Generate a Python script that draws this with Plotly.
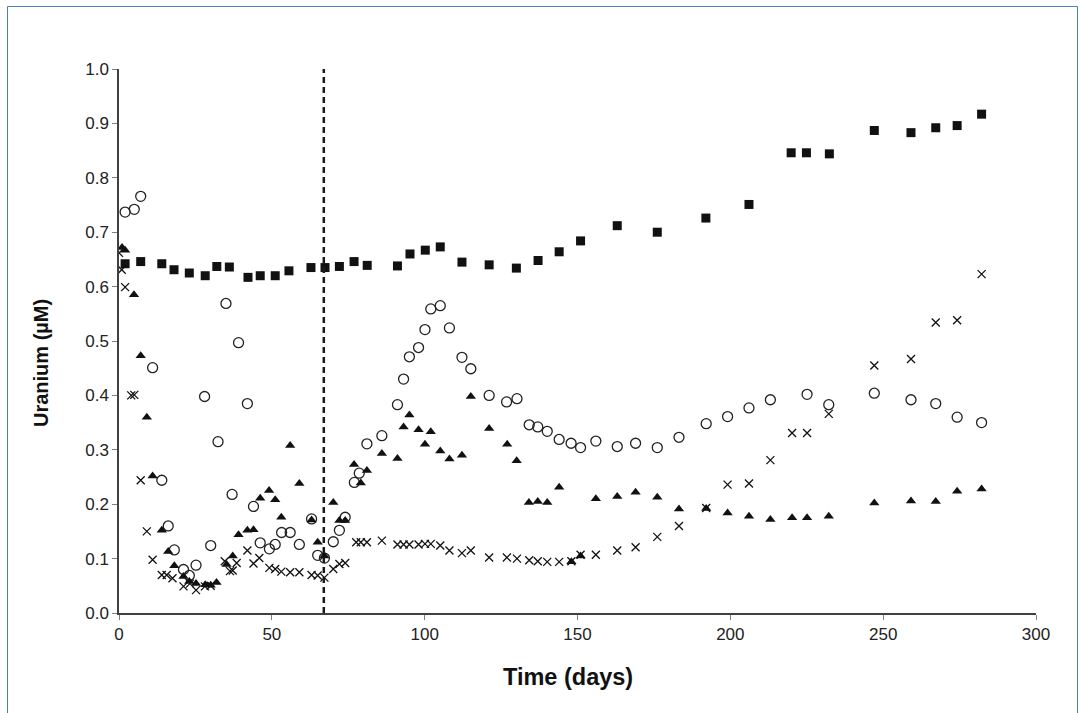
import plotly.graph_objects as go

# Uranium concentration time series (four treatments)
sq_days = [2.0, 7.1, 14.0, 18.0, 23.0, 28.2, 32.0, 36.1, 42.2, 46.2, 51.1, 55.6, 62.8, 67.4,
           72.1, 76.9, 81.2, 91.1, 95.2, 100.2, 105.1, 112.2, 121.1, 130.0, 137.1, 144.0,
           151.0, 163.0, 176.1, 192.0, 206.1, 219.9, 224.9, 232.4, 247.1, 259.1, 267.2,
           274.2, 282.2]
sq_vals = [0.642, 0.646, 0.642, 0.631, 0.625, 0.620, 0.637, 0.636, 0.617, 0.620, 0.620, 0.629,
           0.635, 0.635, 0.637, 0.646, 0.639, 0.638, 0.660, 0.667, 0.673, 0.645, 0.640, 0.634,
           0.648, 0.664, 0.684, 0.712, 0.700, 0.726, 0.751, 0.846, 0.846, 0.844, 0.887, 0.883,
           0.892, 0.896, 0.917]

ci_days = [2.0, 5.0, 7.1, 11.0, 14.0, 16.1, 18.1, 21.1, 23.0, 25.2, 28.0, 30.0, 32.4, 35.0,
           37.0, 39.1, 42.0, 44.0, 46.2, 49.2, 51.1, 53.2, 56.0, 59.0, 63.0, 65.0, 67.2, 70.1,
           72.1, 74.0, 77.0, 78.6, 81.1, 86.0, 91.1, 93.1, 95.0, 98.0, 100.1, 102.0, 105.1,
           108.1, 112.2, 115.1, 121.1, 126.8, 130.2, 134.2, 137.0, 140.1, 144.0, 147.9, 151.0,
           156.0, 163.0, 169.0, 176.1, 183.2, 192.1, 199.1, 206.1, 213.1, 225.1, 232.2, 247.1,
           259.1, 267.2, 274.2, 282.2]
ci_vals = [0.737, 0.742, 0.766, 0.451, 0.244, 0.160, 0.116, 0.080, 0.069, 0.088, 0.398, 0.124,
           0.315, 0.569, 0.218, 0.497, 0.385, 0.196, 0.129, 0.118, 0.126, 0.148, 0.148, 0.126,
           0.173, 0.106, 0.101, 0.131, 0.152, 0.176, 0.240, 0.257, 0.311, 0.326, 0.383, 0.430,
           0.471, 0.488, 0.521, 0.559, 0.565, 0.524, 0.470, 0.449, 0.400, 0.388, 0.394, 0.346,
           0.342, 0.334, 0.319, 0.312, 0.304, 0.316, 0.306, 0.312, 0.304, 0.323, 0.348, 0.361,
           0.377, 0.392, 0.402, 0.383, 0.404, 0.392, 0.385, 0.360, 0.350]

tr_days = [1.0, 2.0, 4.9, 7.1, 9.1, 11.0, 14.0, 16.1, 18.1, 21.1, 23.0, 25.2, 28.2, 30.0, 31.9,
           35.2, 37.2, 39.1, 42.0, 44.0, 46.2, 49.1, 51.1, 53.1, 56.0, 59.0, 63.0, 65.0, 67.2,
           70.1, 72.1, 74.0, 76.9, 79.1, 81.1, 86.0, 91.1, 93.1, 95.0, 98.0, 100.1, 102.0,
           105.1, 108.1, 112.2, 115.1, 121.1, 127.0, 130.1, 134.1, 137.0, 140.1, 144.0, 148.0,
           151.0, 156.0, 163.0, 169.0, 176.1, 183.2, 192.1, 199.1, 206.1, 213.1, 220.2, 225.1,
           232.2, 247.1, 259.1, 267.2, 274.2, 282.2]
tr_vals = [0.672, 0.667, 0.585, 0.473, 0.360, 0.252, 0.152, 0.113, 0.087, 0.067, 0.058, 0.054,
           0.052, 0.051, 0.056, 0.089, 0.105, 0.144, 0.152, 0.153, 0.211, 0.225, 0.208, 0.176,
           0.308, 0.238, 0.171, 0.130, 0.105, 0.203, 0.170, 0.170, 0.273, 0.239, 0.262, 0.293,
           0.284, 0.342, 0.364, 0.337, 0.310, 0.333, 0.298, 0.283, 0.290, 0.398, 0.339, 0.310,
           0.280, 0.203, 0.205, 0.203, 0.231, 0.094, 0.105, 0.210, 0.214, 0.222, 0.213, 0.191,
           0.192, 0.184, 0.178, 0.172, 0.175, 0.175, 0.178, 0.202, 0.206, 0.205, 0.224, 0.228]

x_days = [0.0, 0.9, 2.0, 4.0, 5.0, 7.1, 9.1, 11.0, 14.0, 15.6, 17.5, 21.1, 23.2, 25.2, 28.1,
          30.0, 34.6, 36.3, 37.2, 38.5, 42.0, 44.0, 45.9, 49.2, 51.1, 53.1, 56.0, 59.0, 63.0,
          65.0, 67.2, 70.1, 72.1, 74.0, 77.6, 79.1, 81.1, 86.0, 91.1, 93.1, 95.0, 98.0, 100.1,
          102.0, 105.1, 108.1, 112.2, 115.1, 121.1, 126.9, 130.2, 134.2, 137.0, 140.1, 144.0,
          148.0, 151.0, 156.0, 163.0, 169.0, 176.1, 183.2, 192.1, 199.1, 206.1, 213.1, 220.2,
          225.1, 232.2, 247.1, 259.1, 267.2, 274.2, 282.2]
x_vals = [0.662, 0.631, 0.599, 0.400, 0.401, 0.244, 0.150, 0.098, 0.070, 0.070, 0.064, 0.049,
          0.054, 0.042, 0.049, 0.050, 0.095, 0.077, 0.078, 0.092, 0.115, 0.091, 0.101, 0.083,
          0.081, 0.076, 0.075, 0.075, 0.070, 0.069, 0.065, 0.081, 0.090, 0.092, 0.130, 0.130,
          0.130, 0.133, 0.126, 0.126, 0.126, 0.126, 0.127, 0.127, 0.124, 0.115, 0.110, 0.115,
          0.102, 0.102, 0.100, 0.097, 0.095, 0.094, 0.094, 0.095, 0.107, 0.107, 0.115, 0.121,
          0.140, 0.160, 0.193, 0.236, 0.238, 0.281, 0.331, 0.331, 0.366, 0.455, 0.467, 0.534,
          0.538, 0.623]

x_ticks = [0, 50, 100, 150, 200, 250, 300]
y_ticks = [0.0, 0.1, 0.2, 0.3, 0.4, 0.5, 0.6, 0.7, 0.8, 0.9, 1.0]
event_day = 67

INK = "#111111"
FONT = "Liberation Sans, Arial, sans-serif"

fig = go.Figure()

fig.add_trace(go.Scatter(
    x=sq_days, y=sq_vals, mode="markers",
    marker=dict(symbol="square", size=9, color=INK, line=dict(width=0)),
))
fig.add_trace(go.Scatter(
    x=ci_days, y=ci_vals, mode="markers",
    marker=dict(symbol="circle-open", size=10, color="#222222", line=dict(width=1.3)),
))
fig.add_trace(go.Scatter(
    x=tr_days, y=tr_vals, mode="markers",
    marker=dict(symbol="triangle-up", size=9, color=INK, line=dict(width=0)),
))
fig.add_trace(go.Scatter(
    x=x_days, y=x_vals, mode="markers",
    marker=dict(symbol="x-thin", size=8, color=INK, line=dict(width=1.3, color=INK)),
))

# treatment change marker
fig.add_shape(type="line", xref="x", yref="y",
              x0=event_day, x1=event_day, y0=0, y1=1.0,
              line=dict(color="#1a1a1a", width=2.5, dash="6px,4px"))

# page geometry (pixels)
W, H = 1080, 713
ml, mr, mt, mb = 119, 44, 69, 100
pw, ph = W - ml - mr, H - mt - mb

def px_to_paper_x(px):
    return (px - ml) / pw

def px_to_paper_y(py):
    return (H - mb - py) / ph

# outer frame
fig.add_shape(type="rect", xref="paper", yref="paper",
              x0=px_to_paper_x(7.5), x1=px_to_paper_x(1077.5),
              y0=px_to_paper_y(730), y1=px_to_paper_y(6.5),
              line=dict(color="#4a7ebb", width=1), fillcolor="rgba(0,0,0,0)", layer="below")

# axis titles
fig.add_annotation(text="<b>Time (days)</b>", xref="paper", yref="paper",
                   x=px_to_paper_x(568), y=px_to_paper_y(677),
                   xanchor="center", yanchor="middle", showarrow=False,
                   font=dict(family=FONT, size=23.5, color="#111111"))
fig.add_annotation(text="<b>Uranium (µM)</b>", xref="paper", yref="paper",
                   x=px_to_paper_x(41), y=px_to_paper_y(363), textangle=-90,
                   xanchor="center", yanchor="middle", showarrow=False,
                   font=dict(family=FONT, size=20, color="#111111"))

axis_common = dict(
    showgrid=False, zeroline=False, showline=True,
    linecolor="#404040", linewidth=1.5,
    ticks="outside", ticklen=5, tickwidth=1, tickcolor="#808080",
    tickfont=dict(family=FONT, size=17, color="#222222"),
)

fig.update_layout(
    width=W, height=H,
    margin=dict(l=ml, r=mr, t=mt, b=mb),
    paper_bgcolor="white", plot_bgcolor="white",
    showlegend=False,
    xaxis=dict(range=[0, 300], tickvals=x_ticks, **axis_common),
    yaxis=dict(range=[0, 1.0], tickvals=y_ticks, tickformat=".1f", **axis_common),
)

fig.write_html("out.html")
